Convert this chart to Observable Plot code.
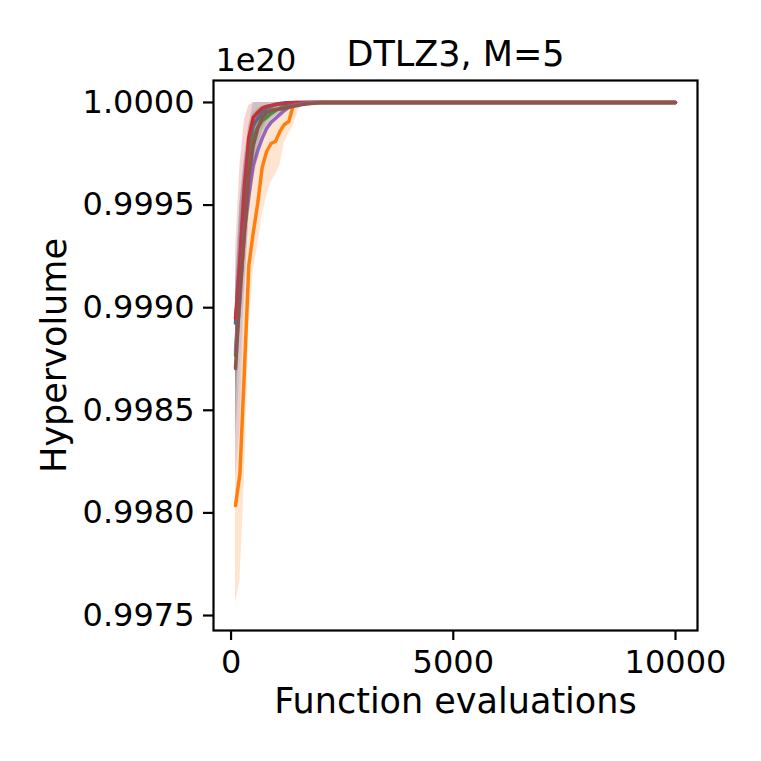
<!DOCTYPE html>
<html><head><meta charset="utf-8">
<script src="https://cdn.jsdelivr.net/npm/d3@7"></script>
<script src="https://cdn.jsdelivr.net/npm/@observablehq/plot@0.6"></script>
<style>body{margin:0;background:#fff} svg{display:block}</style>
</head><body><div id="chart"></div>
<script>
// Function evaluations (x)
const evals = [100,200,300,400,500,600,700,800,900,1000,1100,1200,1300,1400,1500,1600,1800,2000,10000];

// Hypervolume values (in units of 1e20): mean, lower, upper for each run series
const blueMean = [0.998925,0.999220,0.999547,0.999790,0.999888,0.999922,0.999951,0.999971,0.999981,0.999990,0.999995,0.999998,0.999999,1,1,1,1,1,1];
const blueLo   = [0.998499,0.998889,0.999279,0.999596,0.999790,0.999864,0.999912,0.999946,0.999966,0.999981,0.999990,0.999995,0.999998,1,1,1,1,1,1];
const blueHi   = [0.999133,0.999498,0.999717,0.999888,1,1,1,1,1,1,1,1,1,1,1,1,1,1,1];

const orangeMean = [0.998036,0.998192,0.998694,0.999206,0.999367,0.999508,0.999683,0.999761,0.999800,0.999810,0.999859,0.999893,0.999907,0.999985,0.999995,0.999998,1,1,1];
const orangeLo   = [0.997559,0.997671,0.998158,0.998889,0.999181,0.999303,0.999449,0.999547,0.999610,0.999649,0.999693,0.999805,0.999849,0.999888,0.999951,0.999995,0.999998,1,1];
const orangeHi   = [0.998499,0.998694,0.999181,0.999522,0.999620,0.999766,0.999888,0.999961,0.999985,0.999990,0.999995,0.999998,1,1,1,1,1,1,1];

const greenMean = [0.998767,0.999181,0.999498,0.999717,0.999829,0.999878,0.999912,0.999927,0.999946,0.999961,0.999971,0.999981,0.999985,0.999990,0.999995,0.999998,1,1,1];
const greenLo   = [0.998450,0.998840,0.999230,0.999522,0.999693,0.999790,0.999854,0.999888,0.999917,0.999937,0.999951,0.999966,0.999976,0.999985,0.999990,0.999995,0.999998,1,1];
const greenHi   = [0.999084,0.999498,0.999742,0.999888,0.999951,0.999971,0.999981,0.999985,0.999990,0.999995,0.999998,1,1,1,1,1,1,1,1];

const redMean = [0.998947,0.999240,0.999596,0.999829,0.999927,0.999951,0.999971,0.999981,0.999985,0.999990,0.999993,0.999995,0.999998,0.999999,1,1,1,1,1];
const redLo   = [0.998597,0.998889,0.999328,0.999669,0.999839,0.999903,0.999937,0.999961,0.999976,0.999985,0.999990,0.999993,0.999995,0.999998,1,1,1,1,1];
const redHi   = [0.999279,0.999693,0.999912,0.999985,0.999998,1,1,1,1,1,1,1,1,1,1,1,1,1,1];

const purpleMean = [0.998790,0.999035,0.999376,0.999547,0.999693,0.999766,0.999825,0.999873,0.999903,0.999922,0.999942,0.999961,0.999976,0.999985,0.999990,0.999995,0.999998,1,1];
const purpleLo   = [0.998168,0.998402,0.999035,0.999425,0.999620,0.999717,0.999790,0.999849,0.999888,0.999912,0.999932,0.999951,0.999971,0.999981,0.999988,0.999993,0.999998,1,1];
const purpleHi   = [0.999050,0.999522,0.999717,0.999815,0.999888,0.999937,0.999961,0.999981,0.999990,0.999995,0.999998,1,1,1,1,1,1,1,1];

const brownMean = [0.998704,0.999084,0.999352,0.999644,0.999790,0.999873,0.999927,0.999951,0.999961,0.999966,0.999968,0.999971,0.999976,0.999981,0.999985,0.999990,0.999995,1,1];
const brownLo   = [0.998353,0.998694,0.999084,0.999449,0.999644,0.999766,0.999864,0.999912,0.999937,0.999951,0.999961,0.999966,0.999971,0.999976,0.999981,0.999985,0.999990,0.999998,1];
const brownHi   = [0.999035,0.999425,0.999620,0.999815,0.999922,0.999961,0.999981,0.999985,0.999990,0.999990,0.999990,0.999990,0.999993,0.999995,0.999995,0.999998,1,1,1];

const colors = ["#1f77b4","#ff7f0e","#2ca02c","#d62728","#9467bd","#8c564b"];
const xTicks = [0, 5000, 10000];
const yTicks = [0.9975, 0.9980, 0.9985, 0.9990, 0.9995, 1.0000];
const titleText = "DTLZ3, M=5";
const xLabel = "Function evaluations";
const yLabel = "Hypervolume";
const offsetText = "1e20";

const series = [
  [blueMean, blueLo, blueHi],
  [orangeMean, orangeLo, orangeHi],
  [greenMean, greenLo, greenHi],
  [redMean, redLo, redHi],
  [purpleMean, purpleLo, purpleHi],
  [brownMean, brownLo, brownHi]
];

const marks = [];
series.forEach(([m, lo, hi], i) => {
  const data = evals.map((e, j) => ({e, m: m[j], lo: lo[j], hi: hi[j]}));
  marks.push(Plot.areaY(data, {x: "e", y1: "lo", y2: "hi", fill: colors[i], fillOpacity: 0.2, clip: true}));
  marks.push(Plot.lineY(data, {x: "e", y: "m", stroke: colors[i], strokeWidth: 3.5, clip: true}));
});

marks.push(Plot.frame({stroke: "black", strokeWidth: 2.2}));
marks.push(Plot.axisX({ticks: xTicks, tickFormat: d3.format("d"), tickSize: 10, tickPadding: 10, fontSize: 32, label: null, strokeWidth: 2.2}));
marks.push(Plot.axisY({ticks: yTicks, tickFormat: d3.format(".4f"), tickSize: 10, tickPadding: 9, fontSize: 32, label: null, strokeWidth: 2.2}));
marks.push(Plot.text([titleText], {text: d => d, frameAnchor: "top", dy: -39, fontSize: 35}));
marks.push(Plot.text([offsetText], {text: d => d, frameAnchor: "top-left", textAnchor: "start", dx: 2, dy: -32, fontSize: 32}));
marks.push(Plot.text([xLabel], {text: d => d, frameAnchor: "bottom", dy: 82, fontSize: 35}));
marks.push(Plot.text([yLabel], {text: d => d, frameAnchor: "left", textAnchor: "middle", dx: -159, rotate: -90, fontSize: 35}));

const chart = Plot.plot({
  width: 761, height: 761,
  marginLeft: 213, marginRight: 64, marginTop: 80, marginBottom: 131,
  x: {domain: [-395, 10495]},
  y: {domain: [0.997427, 1.000107]},
  style: {fontFamily: "'DejaVu Sans', sans-serif", fontSize: "32px", background: "white", color: "black", overflow: "visible"},
  marks
});
document.getElementById("chart").appendChild(chart);
</script>
</body></html>
